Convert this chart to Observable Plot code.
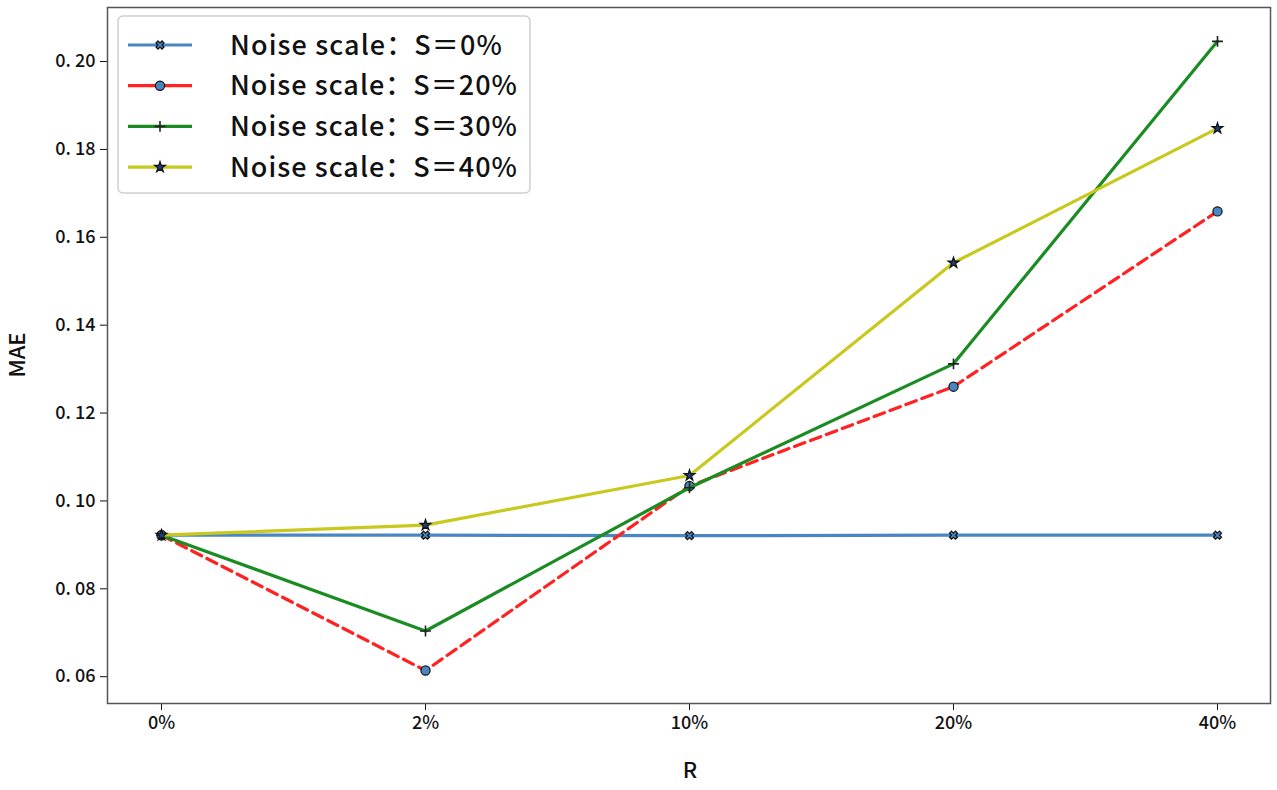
<!DOCTYPE html>
<html><head><meta charset="utf-8">
<script src="https://cdn.jsdelivr.net/npm/d3@7"></script>
<script src="https://cdn.jsdelivr.net/npm/@observablehq/plot@0.6"></script>
<style>body{margin:0;background:#fff;} #chart{position:relative;width:1277px;height:790px;}</style>
</head><body><div id="chart"></div>
<script>
const ratios = ["0%", "2%", "10%", "20%", "40%"];
const seriesNames = ["Noise scale：S＝0%", "Noise scale：S＝20%", "Noise scale：S＝30%", "Noise scale：S＝40%"];
const mae0  = [0.0922, 0.0922, 0.0921, 0.0922, 0.0922];
const mae20 = [0.0922, 0.0614, 0.1034, 0.1260, 0.1659];
const mae30 = [0.0922, 0.0704, 0.1030, 0.1312, 0.2046];
const mae40 = [0.0922, 0.0945, 0.1058, 0.1542, 0.1848];
const yTicks = [0.06, 0.08, 0.10, 0.12, 0.14, 0.16, 0.18, 0.20];

const allSeries = [mae0, mae20, mae30, mae40];
const data = [];
allSeries.forEach((vals, i) => vals.forEach((v, j) => data.push({series: seriesNames[i], ratio: ratios[j], mae: v})));

const styles = [
  {stroke: "#4a86c4", dash: null, symbol: "cross", rotate: 45, r: 3.6, fill: "#4a86c4", mstroke: "#111"},
  {stroke: "#ff2222", dash: "11,6", symbol: "circle", rotate: 0, r: 4.6, fill: "#4a86c4", mstroke: "#111"},
  {stroke: "#1a8c22", dash: null, symbol: "plus", rotate: 0, r: 3.6, fill: "none", mstroke: "#222"},
  {stroke: "#c8c81e", dash: null, symbol: "star", rotate: 0, r: 3.4, fill: "#1f3f7a", mstroke: "#111"}
];

const font = "'Noto Sans CJK SC', 'DejaVu Sans', sans-serif";
const marks = [Plot.frame({stroke: "#555", strokeWidth: 1.5})];
seriesNames.forEach((name, i) => {
  const s = styles[i];
  const sub = data.filter(d => d.series === name);
  marks.push(Plot.line(sub, {x: "ratio", y: "mae", stroke: s.stroke, strokeWidth: 3.2, strokeDasharray: s.dash}));
  marks.push(Plot.dot(sub, {x: "ratio", y: "mae", symbol: s.symbol, rotate: s.rotate, r: s.r,
    fill: s.fill, stroke: s.mstroke, strokeWidth: s.symbol === "plus" ? 1.6 : 1.2}));
});

const plot = Plot.plot({
  width: 1277, height: 790,
  marginLeft: 107, marginRight: 7, marginTop: 7, marginBottom: 87,
  style: {fontFamily: font, fontSize: "18px", fontWeight: 500, background: "#fff", color: "#111"},
  x: {type: "point", domain: ratios, padding: 0.2, label: null, tickSize: 7, tickPadding: 6},
  y: {domain: [0.0539, 0.2123], ticks: yTicks, tickFormat: d => d.toFixed(2).replace(".", ". "), label: null, tickSize: 7, tickPadding: 5},
  marks
});
document.getElementById("chart").appendChild(plot);

const svg = d3.select(plot);
// axis titles
svg.append("text").attr("x", 690).attr("y", 772).attr("text-anchor", "middle").attr("dominant-baseline", "middle")
  .style("font-size", "22px").style("font-weight", 500).style("font-family", font).attr("fill", "#111").text("R");
svg.append("text").attr("transform", "translate(19,355) rotate(-90)").attr("text-anchor", "middle").attr("dominant-baseline", "middle")
  .style("font-size", "22px").style("font-weight", 500).style("font-family", font).attr("fill", "#111").text("MAE");

// legend
const lg = svg.append("g").attr("transform", "translate(118,16)");
lg.append("rect").attr("width", 412).attr("height", 177).attr("rx", 5).attr("fill", "#fff").attr("fill-opacity", 0.85)
  .attr("stroke", "#cfcfcf").attr("stroke-width", 1.5);
const symMap = {cross: d3.symbolCross, circle: d3.symbolCircle, plus: d3.symbolPlus || d3.symbolCross, star: d3.symbolStar};
const unitW = 15.1;
seriesNames.forEach((name, i) => {
  const s = styles[i];
  const y = 29 + i * 40.7;
  lg.append("line").attr("x1", 10).attr("x2", 74).attr("y1", y).attr("y2", y)
    .attr("stroke", s.stroke).attr("stroke-width", 3.2);
  const size = Math.PI * s.r * s.r;
  lg.append("path").attr("d", d3.symbol(symMap[s.symbol], size)())
    .attr("transform", `translate(42,${y}) rotate(${s.rotate})`)
    .attr("fill", s.fill).attr("stroke", s.mstroke).attr("stroke-width", s.symbol === "plus" ? 1.6 : 1.2);
  let units = 0; for (const ch of name) units += ch.charCodeAt(0) > 255 ? 2 : 1;
  lg.append("text").attr("x", 112).attr("y", y).attr("dy", "0.36em").attr("text-anchor", "start")
    .attr("textLength", units * unitW).attr("lengthAdjust", "spacing")
    .style("font-size", "27px").style("font-weight", 500).style("font-family", font).attr("fill", "#111").text(name);
});
</script>
</body></html>
